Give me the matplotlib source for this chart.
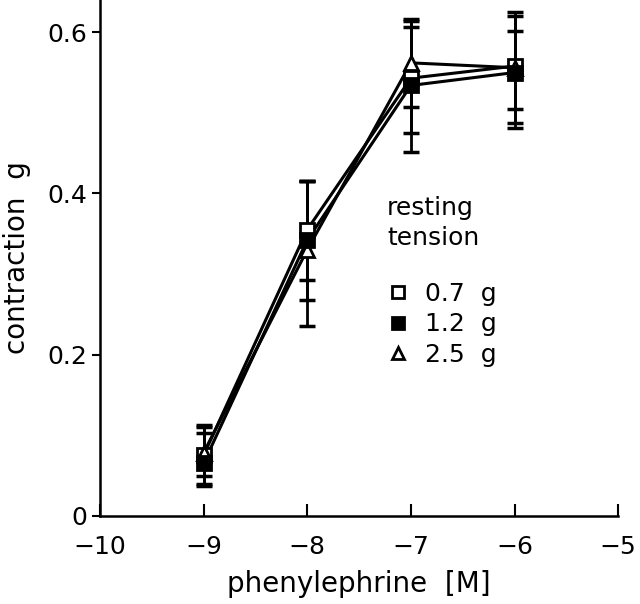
import numpy as np
import matplotlib.pyplot as plt
from matplotlib.lines import Line2D

# phenylephrine log concentration
conc = [-9, -8, -7, -6]

# mean contraction (g) for each resting tension
mean_07 = [0.075, 0.355, 0.543, 0.558]
mean_12 = [0.065, 0.342, 0.534, 0.550]
mean_25 = [0.078, 0.330, 0.562, 0.556]

# error bar ends (lower, upper)
low_07 = [0.040, 0.293, 0.475, 0.487]
up_07 = [0.113, 0.415, 0.606, 0.625]
low_12 = [0.037, 0.268, 0.451, 0.481]
up_12 = [0.103, 0.415, 0.617, 0.620]
low_25 = [0.050, 0.236, 0.507, 0.505]
up_25 = [0.110, 0.415, 0.614, 0.601]

labels = ['0.7  g', '1.2  g', '2.5  g']

plt.rcParams['font.family'] = ['DejaVu Sans']

fig = plt.figure(figsize=(6.4, 6.04), dpi=100)
ax = fig.add_axes([0.156, 0.146, 0.81, 0.854])


def draw(mean, low, up, marker, face):
    mean = np.array(mean)
    yerr = [mean - np.array(low), np.array(up) - mean]
    ax.plot(conc, mean, color='black', lw=2.2, zorder=2)
    ax.errorbar(conc, mean, yerr=yerr, fmt='none', ecolor='black',
                elinewidth=2, capsize=6, capthick=2.5, zorder=3)
    ax.plot(conc, mean, ls='none', marker=marker, ms=10, mfc=face,
            mec='black', mew=2, zorder=4)


draw(mean_07, low_07, up_07, 's', 'white')
draw(mean_25, low_25, up_25, '^', 'white')
draw(mean_12, low_12, up_12, 's', 'black')

ax.set_xlim(-10, -5)
ax.set_ylim(0, 0.64)
ax.set_xticks([-10, -9, -8, -7, -6, -5])
ax.set_xticklabels(['\u221210', '\u22129', '\u22128', '\u22127', '\u22126', '\u22125'])
ax.set_yticks([0, 0.2, 0.4, 0.6])
ax.set_yticklabels(['0', '0.2', '0.4', '0.6'])
ax.tick_params(axis='x', direction='in', length=9, width=1.5, labelsize=18, pad=14)
ax.tick_params(axis='y', direction='out', length=6, width=1.5, labelsize=18, pad=3)
for s in ['top', 'right']:
    ax.spines[s].set_visible(False)
for s in ['left', 'bottom']:
    ax.spines[s].set_linewidth(1.8)

ax.set_xlabel('phenylephrine  [M]', fontsize=20, labelpad=8)
ax.set_ylabel('contraction  g', fontsize=20, labelpad=12)

ax.text(0.554, 0.62, 'resting\ntension', transform=ax.transAxes, fontsize=18,
        ha='left', va='top', linespacing=1.3)

handles = [
    Line2D([], [], ls='none', marker='s', ms=8, mfc='white', mec='black', mew=2),
    Line2D([], [], ls='none', marker='s', ms=8, mfc='black', mec='black', mew=2),
    Line2D([], [], ls='none', marker='^', ms=8, mfc='white', mec='black', mew=2),
]
leg = ax.legend(handles, labels, frameon=False,
                loc='upper left', bbox_to_anchor=(0.555, 0.453), fontsize=18,
                handlelength=0.8, handletextpad=0.7,
                labelspacing=0.25, borderaxespad=0, borderpad=0)

fig.savefig('out.png', dpi=100)
